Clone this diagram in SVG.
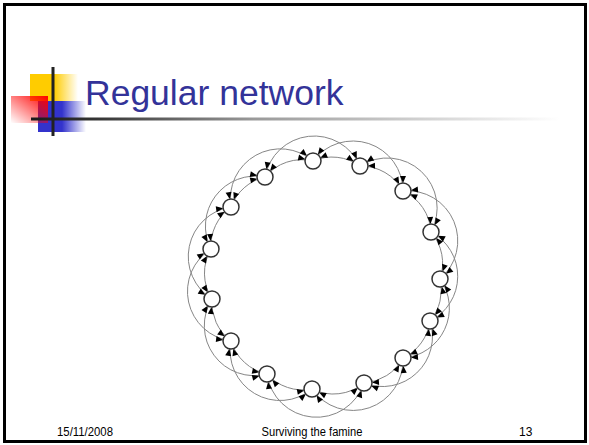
<svg xmlns="http://www.w3.org/2000/svg" width="589" height="445" viewBox="0 0 589 445">
<defs>
<style>
.e{fill:none;stroke:#868686;stroke-width:1;marker-start:url(#a);marker-end:url(#a)}
.n{fill:#fff;stroke:#333;stroke-width:1.5}
.f{font-family:"Liberation Sans",Arial,sans-serif;font-size:12px;fill:#000}
</style>
<marker id="a" markerUnits="userSpaceOnUse" markerWidth="20" markerHeight="20" refX="8" refY="0" orient="auto-start-reverse" overflow="visible"><path d="M0,0 L-7,-3 L-7,3 Z" fill="#000"/></marker>
<linearGradient id="gy" x1="0" y1="0" x2="1" y2="0"><stop offset="0.5" stop-color="#FFCC00"/><stop offset="1" stop-color="#FFCC00" stop-opacity="0"/></linearGradient>
<linearGradient id="gb" x1="0" y1="0" x2="1" y2="0"><stop offset="0.5" stop-color="#3333CC"/><stop offset="1" stop-color="#3333CC" stop-opacity="0"/></linearGradient>
<linearGradient id="gr" x1="1" y1="0" x2="0" y2="1"><stop offset="0" stop-color="#FF0000"/><stop offset="1" stop-color="#FF0000" stop-opacity="0"/></linearGradient>
<linearGradient id="gl" gradientUnits="userSpaceOnUse" x1="31" y1="0" x2="560" y2="0"><stop offset="0" stop-color="#1a1a1a"/><stop offset="0.12" stop-color="#333"/><stop offset="0.42" stop-color="#999"/><stop offset="1" stop-color="#fff"/></linearGradient>
</defs>
<rect x="4.5" y="4.5" width="581" height="437" fill="#fff" stroke="#000" stroke-width="3"/>
<g id="logo">
<rect x="30" y="74" width="48" height="27" fill="url(#gy)"/>
<rect x="38" y="101" width="48" height="31" fill="url(#gb)"/>
<rect x="11" y="96" width="37" height="27" fill="url(#gr)"/>
<rect x="31" y="117.5" width="540" height="3" fill="url(#gl)"/>
<rect x="51.5" y="67" width="3" height="69" fill="#222"/>
</g>
<text id="title" x="85" y="105" font-family="'Liberation Sans',Arial,sans-serif" font-size="35.5" fill="#333399">Regular network</text>
<g id="connectors">
<path class="e" d="M313,161 A48,48 0 0 1 360,166"/>
<path class="e" d="M360,166 A48,48 0 0 1 403,191"/>
<path class="e" d="M403,191 A48,48 0 0 1 431,232"/>
<path class="e" d="M431,232 A48,48 0 0 1 440,279"/>
<path class="e" d="M440,279 A48,48 0 0 1 430,321"/>
<path class="e" d="M430,321 A48,48 0 0 1 403,358"/>
<path class="e" d="M403,358 A48,48 0 0 1 364,383"/>
<path class="e" d="M364,383 A48,48 0 0 1 312,389"/>
<path class="e" d="M312,389 A48,48 0 0 1 267,374"/>
<path class="e" d="M267,374 A48,48 0 0 1 231,341"/>
<path class="e" d="M231,341 A48,48 0 0 1 212,299"/>
<path class="e" d="M212,299 A48,48 0 0 1 211,249"/>
<path class="e" d="M211,249 A48,48 0 0 1 231,207"/>
<path class="e" d="M231,207 A48,48 0 0 1 265,177"/>
<path class="e" d="M265,177 A48,48 0 0 1 313,161"/>
<path class="e" d="M313,161 A50,50 0 0 1 403,191"/>
<path class="e" d="M360,166 A50,50 0 0 1 431,232"/>
<path class="e" d="M403,191 A50,50 0 0 1 440,279"/>
<path class="e" d="M431,232 A50,50 0 0 1 430,321"/>
<path class="e" d="M440,279 A50,50 0 0 1 403,358"/>
<path class="e" d="M430,321 A50,50 0 0 1 364,383"/>
<path class="e" d="M403,358 A50,50 0 0 1 312,389"/>
<path class="e" d="M364,383 A50,50 0 0 1 267,374"/>
<path class="e" d="M312,389 A50,50 0 0 1 231,341"/>
<path class="e" d="M267,374 A50,50 0 0 1 212,299"/>
<path class="e" d="M231,341 A50,50 0 0 1 211,249"/>
<path class="e" d="M212,299 A50,50 0 0 1 231,207"/>
<path class="e" d="M211,249 A50,50 0 0 1 265,177"/>
<path class="e" d="M231,207 A50,50 0 0 1 313,161"/>
<path class="e" d="M265,177 A50,50 0 0 1 360,166"/>
</g>
<g id="n0"><circle class="n" cx="313" cy="161" r="8"/></g>
<g id="n1"><circle class="n" cx="360" cy="166" r="8"/></g>
<g id="n2"><circle class="n" cx="403" cy="191" r="8"/></g>
<g id="n3"><circle class="n" cx="431" cy="232" r="8"/></g>
<g id="n4"><circle class="n" cx="440" cy="279" r="8"/></g>
<g id="n5"><circle class="n" cx="430" cy="321" r="8"/></g>
<g id="n6"><circle class="n" cx="403" cy="358" r="8"/></g>
<g id="n7"><circle class="n" cx="364" cy="383" r="8"/></g>
<g id="n8"><circle class="n" cx="312" cy="389" r="8"/></g>
<g id="n9"><circle class="n" cx="267" cy="374" r="8"/></g>
<g id="n10"><circle class="n" cx="231" cy="341" r="8"/></g>
<g id="n11"><circle class="n" cx="212" cy="299" r="8"/></g>
<g id="n12"><circle class="n" cx="211" cy="249" r="8"/></g>
<g id="n13"><circle class="n" cx="231" cy="207" r="8"/></g>
<g id="n14"><circle class="n" cx="265" cy="177" r="8"/></g>
<g id="footer">
<text class="f" x="57" y="436" textLength="56" lengthAdjust="spacingAndGlyphs">15/11/2008</text>
<text class="f" x="312" y="436" text-anchor="middle" textLength="101" lengthAdjust="spacingAndGlyphs">Surviving the famine</text>
<text class="f" x="519" y="436">13</text>
</g>
</svg>
